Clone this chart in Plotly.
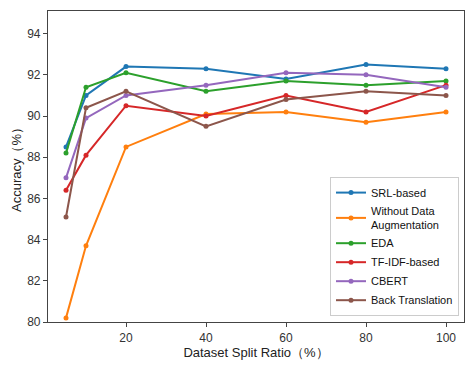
import plotly.graph_objects as go

split_ratio = [5, 10, 20, 40, 60, 80, 100]

srl_based = [88.5, 91.0, 92.4, 92.3, 91.8, 92.5, 92.3]
without_da = [80.2, 83.7, 88.5, 90.1, 90.2, 89.7, 90.2]
eda = [88.2, 91.4, 92.1, 91.2, 91.7, 91.5, 91.7]
tf_idf = [86.4, 88.1, 90.5, 90.0, 91.0, 90.2, 91.5]
cbert = [87.0, 89.9, 91.0, 91.5, 92.1, 92.0, 91.4]
back_translation = [85.1, 90.4, 91.2, 89.5, 90.8, 91.2, 91.0]

series_names = ["SRL-based", "Without Data<br>Augmentation", "EDA",
                "TF-IDF-based", "CBERT", "Back Translation"]
series_values = [srl_based, without_da, eda, tf_idf, cbert, back_translation]
colors = ["#1f77b4", "#ff7f0e", "#2ca02c", "#d62728", "#9467bd", "#8c564b"]

fig = go.Figure()
for name, vals, col in zip(series_names, series_values, colors):
    fig.add_trace(go.Scatter(
        x=split_ratio, y=vals, name=name, mode="lines+markers",
        line=dict(color=col, width=2),
        marker=dict(color=col, size=5),
    ))

axis_common = dict(
    showline=True, linecolor="#444", linewidth=1.2, mirror=True,
    ticks="outside", ticklen=4, tickcolor="#444",
    showgrid=False, zeroline=False, automargin=False,
    tickfont=dict(size=12, color="#333"),
)

# page body has an 8px default margin, so the figure is a bit smaller
fig.update_layout(
    width=468, height=361,
    margin=dict(l=40, r=12, t=3, b=47),
    paper_bgcolor="white", plot_bgcolor="white",
    font=dict(family="Liberation Sans, Arial, sans-serif", color="#222"),
    xaxis=dict(range=[0.5, 104.5], tickvals=[20, 40, 60, 80, 100],
               title=dict(text="Dataset Split Ratio（%）", font=dict(size=13), standoff=4),
               **axis_common),
    yaxis=dict(range=[80, 95.1], tickvals=[80, 82, 84, 86, 88, 90, 92, 94],
               title=dict(text="Accuracy（%）", font=dict(size=13), standoff=2),
               **axis_common),
    legend=dict(
        x=0.988, y=0.019, xanchor="right", yanchor="bottom",
        bgcolor="rgba(255,255,255,0.9)", bordercolor="#ccc", borderwidth=1,
        font=dict(size=11, color="#111"),
        tracegroupgap=0, itemwidth=30,
    ),
)

fig.write_html("out.html")
